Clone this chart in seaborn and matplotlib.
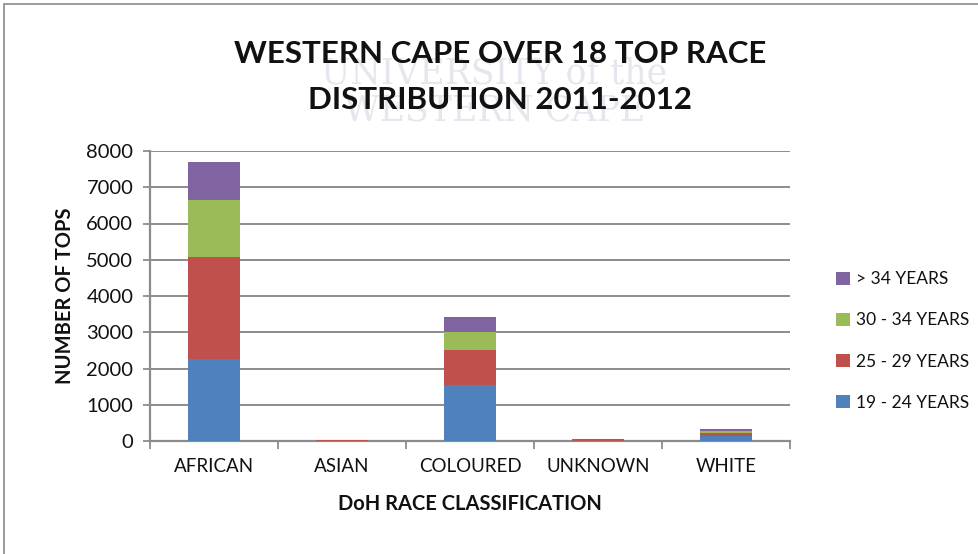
import matplotlib
matplotlib.use("Agg")
import matplotlib.pyplot as plt
from matplotlib.patches import Patch, Rectangle
import numpy as np
import seaborn as sns

# Over-18 TOP counts by DoH race classification, split by age group
categories = ["AFRICAN", "ASIAN", "COLOURED", "UNKNOWN", "WHITE"]
age_19_24 = [2270, 5, 1540, 5, 150]
age_25_29 = [2810, 15, 960, 45, 70]
age_30_34 = [1570, 5, 500, 3, 60]
age_over_34 = [1050, 10, 430, 2, 50]

series = [
    ("19 - 24 YEARS", age_19_24, "#4F81BD"),
    ("25 - 29 YEARS", age_25_29, "#C0504D"),
    ("30 - 34 YEARS", age_30_34, "#9BBB59"),
    ("> 34 YEARS", age_over_34, "#8064A2"),
]
y_ticks = [0, 1000, 2000, 3000, 4000, 5000, 6000, 7000, 8000]

sns.set_theme(style="white")
plt.rcParams["font.family"] = ["Lato", "DejaVu Sans"]

fig = plt.figure(figsize=(9.79, 5.54), dpi=100)
fig.patch.set_facecolor("white")

# chart frame
fig.patches.append(Rectangle((4 / 979, -0.05), 1.2, 1 - 4 / 554 + 0.05,
                             transform=fig.transFigure, fill=False,
                             edgecolor="#8a8a8a", linewidth=1.2))

# faint watermark behind the title
for txt, y in [("UNIVERSITY of the", 0.868), ("WESTERN CAPE", 0.80)]:
    fig.text(0.505, y, txt, ha="center", va="center", fontsize=25,
             family="DejaVu Serif", color="#e6e6ee", zorder=0)

ax = fig.add_axes([150 / 979, 1 - 441 / 554, 640 / 979, 290 / 554])

bottom = np.zeros(len(categories))
for label, vals, color in series:
    sns.barplot(x=categories, y=vals, bottom=bottom, color=color,
                saturation=1, width=0.4, ax=ax, linewidth=0, zorder=3)
    bottom = bottom + np.array(vals)

ax.set_xlim(-0.5, len(categories) - 0.5)
ax.set_ylim(0, 8000)
ax.set_yticks(y_ticks)
ax.set_yticklabels([str(t) for t in y_ticks], fontsize=14.5, color="#111111")
ax.yaxis.grid(True, color="#8c8c8c", linewidth=1.4, zorder=0)
ax.set_axisbelow(True)
ax.tick_params(axis="x", length=0, pad=12, labelsize=13.5, colors="#111111")
ax.tick_params(axis="y", length=5, width=1.3, color="#8c8c8c", pad=7, left=True)

for side in ["top", "right"]:
    ax.spines[side].set_visible(False)
for side in ["left", "bottom"]:
    ax.spines[side].set_color("#8c8c8c")
    ax.spines[side].set_linewidth(1.6)

# category boundary ticks below the x axis
ax.set_xticks(np.arange(-0.5, len(categories) + 0.5), minor=True)
ax.tick_params(axis="x", which="minor", length=6, width=1.3,
               color="#8c8c8c", bottom=True)

ax.set_xlabel("DoH RACE CLASSIFICATION", fontsize=14.5, fontweight="bold",
              labelpad=14, color="#111111")
ax.set_ylabel("NUMBER OF TOPS", fontsize=14.5, fontweight="bold",
              labelpad=8, color="#111111")

fig.text(0.511, 0.903, "WESTERN CAPE OVER 18 TOP RACE", ha="center",
         va="center", fontsize=22.5, fontweight="bold", color="#111111")
fig.text(0.511, 0.820, "DISTRIBUTION 2011-2012", ha="center",
         va="center", fontsize=22.5, fontweight="bold", color="#111111")

handles = [Patch(facecolor=c, edgecolor="none", label=l)
           for l, _, c in reversed(series)]
fig.legend(handles=handles, loc="center left",
           bbox_to_anchor=(820 / 979, 1 - 341 / 554), frameon=False,
           fontsize=12.5, handlelength=0.8, handleheight=0.8,
           handletextpad=0.4, labelspacing=1.45, labelcolor="#111111")

fig.savefig("out.png", dpi=100, facecolor="white")
